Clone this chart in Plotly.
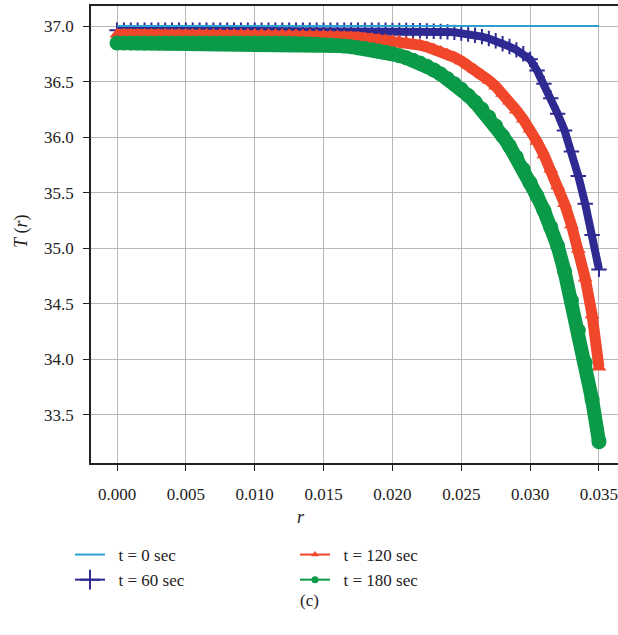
import numpy as np
import plotly.graph_objects as go

# radial positions (step 0.0005 m)
r = np.round(np.arange(0, 0.03501, 0.0005), 4)

T_0 = [37.0] * len(r)

T_60 = [36.962] * 40 + [
    36.961, 36.96, 36.959, 36.958, 36.957, 36.955, 36.953, 36.95, 36.947, 36.943,
    36.937, 36.928, 36.917, 36.904, 36.888, 36.868, 36.84, 36.815, 36.785, 36.75,
    36.70, 36.60, 36.48, 36.35, 36.21, 36.06, 35.87, 35.65, 35.40, 35.12, 34.81]

T_120 = [36.925] * 20 + [
    36.925, 36.925, 36.924, 36.924, 36.923, 36.922, 36.921, 36.92, 36.918, 36.916,
    36.914, 36.912, 36.909, 36.906, 36.902, 36.898, 36.893, 36.888, 36.882, 36.876,
    36.87, 36.862, 36.853, 36.842, 36.828, 36.812, 36.793, 36.771, 36.746, 36.718,
    36.685, 36.648, 36.607, 36.562, 36.512, 36.457, 36.392, 36.322, 36.242, 36.16,
    36.07, 35.96, 35.84, 35.71, 35.56, 35.40, 35.21, 34.99, 34.73, 34.40, 33.93]

T_180 = [36.847] * 24 + [
    36.846, 36.845, 36.843, 36.841, 36.838, 36.835, 36.832, 36.828, 36.824, 36.819,
    36.813, 36.805, 36.797, 36.787, 36.776, 36.764, 36.75, 36.733, 36.714, 36.692,
    36.667, 36.638, 36.605, 36.568, 36.526, 36.48, 36.43, 36.375, 36.315, 36.25,
    36.18, 36.10, 36.01, 35.92, 35.82, 35.71, 35.59, 35.47, 35.34, 35.19,
    35.02, 34.79, 34.53, 34.26, 33.97, 33.64, 33.26]

labels = ["t = 0 sec", "t = 60 sec", "t = 120 sec", "t = 180 sec"]
x_ticks = [0.000, 0.005, 0.010, 0.015, 0.020, 0.025, 0.030, 0.035]
y_ticks = [33.5, 34.0, 34.5, 35.0, 35.5, 36.0, 36.5, 37.0]

C0 = "#2a9fd0"
C60 = "#2e2a92"
C120 = "#f0462a"
C180 = "#0a9a48"

SERIF = "Liberation Serif"

fig = go.Figure()

# data traces
fig.add_trace(go.Scatter(x=r, y=T_60, mode="lines+markers", showlegend=False,
                         line=dict(color=C60, width=8),
                         marker=dict(symbol="cross-thin", size=11, line=dict(color=C60, width=2))))
fig.add_trace(go.Scatter(x=r, y=T_120, mode="lines+markers", showlegend=False,
                         line=dict(color=C120, width=11),
                         marker=dict(symbol="triangle-up", size=13, color=C120)))
fig.add_trace(go.Scatter(x=r, y=T_180, mode="lines+markers", showlegend=False,
                         line=dict(color=C180, width=14),
                         marker=dict(symbol="circle", size=15, color=C180)))
fig.add_trace(go.Scatter(x=r, y=T_0, mode="lines", showlegend=False,
                         line=dict(color=C0, width=2)))

# legend entries
NB = "\u00a0\u00a0"
fig.add_trace(go.Scatter(x=[None], y=[None], mode="lines", name=NB + labels[0],
                         line=dict(color=C0, width=2), legend="legend"))
fig.add_trace(go.Scatter(x=[None], y=[None], mode="lines+markers", name=NB + labels[1],
                         line=dict(color=C60, width=2),
                         marker=dict(symbol="cross-thin", size=14, line=dict(color=C60, width=2)),
                         legend="legend"))
fig.add_trace(go.Scatter(x=[None], y=[None], mode="lines+markers", name=NB + labels[2],
                         line=dict(color=C120, width=2),
                         marker=dict(symbol="triangle-up", size=7, color=C120),
                         legend="legend2"))
fig.add_trace(go.Scatter(x=[None], y=[None], mode="lines+markers", name=NB + labels[3],
                         line=dict(color=C180, width=2),
                         marker=dict(symbol="circle", size=7, color=C180),
                         legend="legend2"))

W, H = 618, 635
L, R, T, B = 91, 0, 6, 172
pw = W - L - R
ph = H - T - B

legend_common = dict(
    orientation="v", yanchor="top", xanchor="left",
    font=dict(family=SERIF, size=17, color="#222"),
    bgcolor="rgba(0,0,0,0)", itemsizing="trace", tracegroupgap=0,
)

fig.update_layout(
    width=W, height=H,
    margin=dict(l=L, r=R, t=T, b=B, pad=0, autoexpand=False),
    paper_bgcolor="white", plot_bgcolor="white",
    font=dict(family=SERIF, size=17, color="#222"),
    legend=dict(x=(70 - L) / pw, y=(463 - 537) / ph, **legend_common),
    legend2=dict(x=(295 - L) / pw, y=(463 - 537) / ph, **legend_common),
    xaxis=dict(
        range=[-0.001888, -0.001888 + pw / 13771.0],
        tickvals=x_ticks, tickformat=".3f", ticklabeloverflow="allow",
        ticklabelstandoff=9,
        showgrid=True, gridcolor="#b8b8b8", gridwidth=1,
        showline=True, linecolor="#222", linewidth=1.5, mirror=True,
        ticks="outside", ticklen=6, tickwidth=1.2, tickcolor="#222",
        tickfont=dict(family=SERIF, size=17, color="#222"),
        zeroline=False,
    ),
    yaxis=dict(
        range=[33.068, 37.18],
        tickvals=y_ticks, tickformat=".1f",
        ticklabelstandoff=6,
        showgrid=True, gridcolor="#b8b8b8", gridwidth=1,
        showline=True, linecolor="#222", linewidth=1.5, mirror=False,
        ticks="outside", ticklen=6, tickwidth=1.2, tickcolor="#222",
        tickfont=dict(family=SERIF, size=17, color="#222"),
        zeroline=False,
    ),
    annotations=[
        dict(text="<i>r</i>", x=(301 - L) / pw, y=(463 - 517) / ph, xref="paper", yref="paper",
             xanchor="center", yanchor="middle",
             showarrow=False, font=dict(family=SERIF, size=18, color="#222")),
        dict(text="<i>T</i> (<i>r</i>)", x=(21 - L) / pw, y=(463 - 231) / ph, xref="paper", yref="paper",
             xanchor="center", yanchor="middle",
             showarrow=False, textangle=-90, font=dict(family=SERIF, size=18, color="#222")),
        dict(text="(c)", x=(309 - L) / pw, y=(463 - 600) / ph, xref="paper", yref="paper",
             xanchor="center", yanchor="middle",
             showarrow=False, font=dict(family=SERIF, size=17, color="#222")),
    ],
)

fig.write_html("out.html", config={"displayModeBar": False},
               post_script="document.body.style.margin='0px';")
